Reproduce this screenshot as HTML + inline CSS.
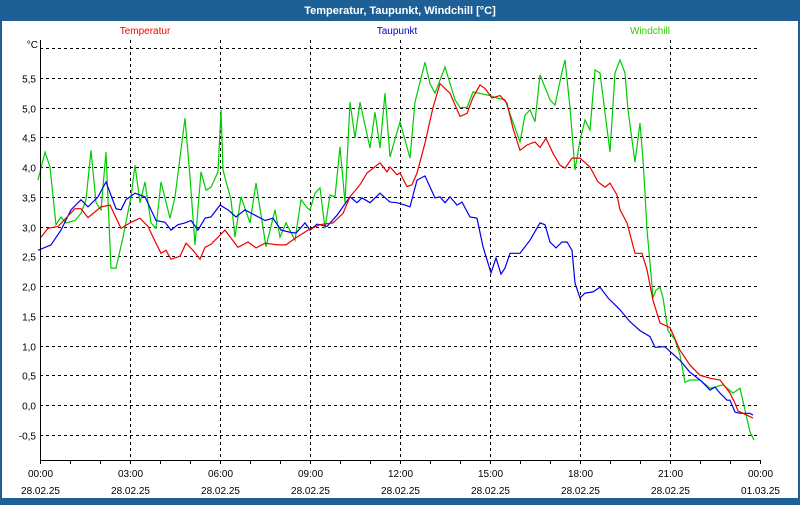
<!DOCTYPE html>
<html><head><meta charset="utf-8">
<style>
html,body{margin:0;padding:0;}
body{width:800px;height:500px;overflow:hidden;background:#1e5f96;font-family:"Liberation Sans",sans-serif;}
</style></head>
<body>
<svg width="800" height="500" xmlns="http://www.w3.org/2000/svg" id="svg">
<rect x="0" y="0" width="800" height="500" fill="#1e5f96"/>
<rect x="2" y="21" width="796" height="477" fill="#fff"/>
<text x="400" y="14" fill="#fff" font-size="11" font-weight="bold" text-anchor="middle">Temperatur, Taupunkt, Windchill [°C]</text>
<text x="145" y="34" fill="#ff0000" font-size="10" text-anchor="middle">Temperatur</text>
<text x="397" y="34" fill="#0000cc" font-size="10" text-anchor="middle">Taupunkt</text>
<text x="650" y="34" fill="#33cc00" font-size="10" text-anchor="middle">Windchill</text>
<text x="38" y="48" fill="#000" font-size="10" text-anchor="end">°C</text>
<g id="grid"></g>
<g id="series"></g>
<path d="M40.5 40 V460.5 H760.5" fill="none" stroke="#000" stroke-width="1"/>
<g id="labels"></g>
</svg>
<script>
const yTicks=[6.0,5.5,5.0,4.5,4.0,3.5,3.0,2.5,2.0,1.5,1.0,0.5,0.0,-0.5];
const xTickTimes=["00:00","03:00","06:00","09:00","12:00","15:00","18:00","21:00","00:00"];
const xTickDates=["28.02.25","28.02.25","28.02.25","28.02.25","28.02.25","28.02.25","28.02.25","28.02.25","01.03.25"];
const tempMin=[2,16,36,70,82,96,122,140,162,182,200,216,232,242,252,262,280,292,306,320,330,342,370,396,416,432,450,476,492,510,536,560,586,606,620,640,654,680,694,700,714,720,734,744,754,770,786,800,820,840,854,866,880,890,904,920,934,946,960,974,990,1000,1012,1026,1040,1050,1064,1080,1100,1116,1130,1140,1154,1160,1174,1190,1204,1214,1226,1240,1260,1280,1300,1320,1340,1360,1380,1390,1396,1406,1426];
const tempVal=[2.82,2.97,3.0,3.3,3.3,3.15,3.33,3.36,2.97,3.07,3.14,3.0,2.72,2.55,2.6,2.45,2.5,2.72,2.6,2.45,2.65,2.7,2.94,2.65,2.74,2.64,2.72,2.69,2.69,2.8,2.94,3.03,3.06,3.22,3.5,3.7,3.9,4.07,3.92,4.0,3.87,3.9,3.67,3.7,3.9,4.4,5.0,5.4,5.24,4.85,4.9,5.17,5.38,5.32,5.16,5.2,5.07,4.65,4.28,4.37,4.42,4.33,4.48,4.23,4.03,3.98,4.15,4.15,4.0,3.75,3.66,3.73,3.53,3.28,3.06,2.55,2.55,2.27,1.76,1.38,1.3,0.92,0.67,0.5,0.45,0.42,0.2,0.03,-0.1,-0.14,-0.22];
const dewMin=[-4,22,42,62,82,96,116,132,152,162,172,190,210,222,232,250,262,276,290,302,316,330,342,360,376,392,410,430,450,466,482,502,512,530,540,554,574,594,620,634,644,660,680,700,714,730,740,754,770,790,800,810,820,834,844,860,874,886,902,912,922,930,940,960,980,1000,1010,1020,1032,1044,1054,1064,1070,1080,1090,1106,1120,1136,1160,1180,1200,1220,1230,1250,1260,1280,1300,1320,1330,1340,1350,1360,1374,1380,1390,1400,1420,1426];
const dewVal=[2.6,2.69,2.94,3.28,3.45,3.33,3.5,3.75,3.3,3.28,3.45,3.56,3.5,3.28,3.1,3.07,2.94,3.03,3.06,3.1,2.94,3.14,3.16,3.36,3.28,3.16,3.28,3.19,3.1,3.14,2.94,2.9,2.89,3.06,2.94,3.04,3.0,3.19,3.5,3.4,3.48,3.4,3.56,3.41,3.4,3.36,3.33,3.78,3.85,3.48,3.5,3.4,3.5,3.36,3.41,3.16,3.14,2.66,2.22,2.47,2.2,2.3,2.55,2.55,2.77,3.06,3.03,2.74,2.64,2.74,2.74,2.6,2.05,1.8,1.88,1.9,1.98,1.8,1.6,1.4,1.25,1.15,0.97,0.98,0.9,0.75,0.55,0.42,0.34,0.25,0.3,0.2,0.08,0.08,-0.12,-0.14,-0.14,-0.17];
const chillMin=[-4,10,20,32,42,52,70,82,92,102,112,122,132,136,142,152,166,182,190,200,210,222,232,242,260,270,290,300,310,322,332,342,356,362,366,382,390,402,420,432,452,470,480,492,510,522,536,540,550,560,570,580,590,600,610,620,630,640,660,670,680,690,700,720,740,750,770,780,790,810,830,840,854,866,900,914,930,960,970,980,990,1000,1020,1030,1044,1050,1060,1070,1080,1090,1100,1110,1120,1140,1150,1160,1170,1176,1190,1200,1206,1210,1214,1220,1226,1232,1240,1246,1256,1270,1280,1290,1300,1320,1340,1366,1386,1400,1420,1428];
const chillVal=[3.78,4.25,4.0,3.03,3.16,3.06,3.1,3.22,3.45,4.28,3.4,3.28,4.25,3.45,2.3,2.3,2.82,3.5,4.03,3.4,3.75,3.06,2.97,3.75,3.14,3.5,4.82,3.83,2.69,3.92,3.61,3.66,3.92,4.96,3.95,3.45,2.82,3.5,3.06,3.73,2.66,3.28,2.82,3.06,2.77,3.45,3.3,3.28,3.56,3.65,2.97,3.53,3.5,4.34,3.4,5.09,4.49,5.09,4.32,4.92,4.32,5.24,4.17,4.76,4.15,5.09,5.76,5.4,5.24,5.68,5.13,5.0,5.0,5.26,5.2,5.16,5.13,4.42,4.87,4.96,4.76,5.55,5.13,5.04,5.6,5.8,5.0,3.95,4.45,4.79,4.62,5.63,5.58,4.25,5.58,5.8,5.58,4.96,4.08,4.74,4.12,3.56,2.94,2.39,1.8,1.93,1.98,1.8,1.25,1.1,0.84,0.38,0.42,0.42,0.28,0.34,0.2,0.28,-0.45,-0.59];

const NS="http://www.w3.org/2000/svg";
const X0=40,X1=760,Y0val=405,PXPV=59.5;
function xScale(min){return X0+min*(X1-X0)/1440;}
function yScale(v){return Y0val-v*PXPV;}
const grid=document.getElementById('grid');
const labels=document.getElementById('labels');
yTicks.forEach(function(v){
  const y=Math.round(yScale(v))+0.5;
  const l=document.createElementNS(NS,'line');
  
  
  l.setAttribute('x1',X0);l.setAttribute('x2',X1);l.setAttribute('y1',y);l.setAttribute('y2',y);
  l.setAttribute('stroke','#000');l.setAttribute('stroke-dasharray','3,3');
  grid.appendChild(l);
  if(v<6){
    const t=document.createElementNS(NS,'text');
    
    
    t.setAttribute('x',36);t.setAttribute('y',y+4);t.setAttribute('text-anchor','end');t.setAttribute('font-size','10');
    t.textContent=v.toFixed(1).replace('.',',');
    labels.appendChild(t);
  }
});
for(let i=0;i<=24;i++){
  const x=Math.round(xScale(i*60))+0.5;
  const tk=document.createElementNS(NS,'line');
  
  
  tk.setAttribute('x1',x);tk.setAttribute('x2',x);tk.setAttribute('y1',460);tk.setAttribute('y2',464);tk.setAttribute('stroke','#000');
  labels.appendChild(tk);
}
xTickTimes.forEach(function(s,i){
  const x=Math.round(xScale(i*180))+0.5;
  if(i>0&&i<8){
    const l=document.createElementNS(NS,'line');
    
    
    l.setAttribute('x1',x);l.setAttribute('x2',x);l.setAttribute('y1',40);l.setAttribute('y2',460);
    l.setAttribute('stroke','#000');l.setAttribute('stroke-dasharray','3,3');
    grid.appendChild(l);
  }
  const t=document.createElementNS(NS,'text');
  
  
  t.setAttribute('x',x);t.setAttribute('y',477);t.setAttribute('text-anchor','middle');t.setAttribute('font-size','10');
  t.textContent=s;labels.appendChild(t);
  const d=document.createElementNS(NS,'text');
  
  
  d.setAttribute('x',x);d.setAttribute('y',494);d.setAttribute('text-anchor','middle');d.setAttribute('font-size','10');
  d.textContent=xTickDates[i];labels.appendChild(d);
});
const series=document.getElementById('series');
function drawLine(mins,vals,color,name){
  const n=Math.min(mins.length,vals.length);
  const pts=[];
  for(let i=0;i<n;i++){pts.push(xScale(mins[i]).toFixed(1)+','+yScale(vals[i]).toFixed(1));}
  const p=document.createElementNS(NS,'polyline');
  
  
  p.setAttribute('points',pts.join(' '));p.setAttribute('fill','none');p.setAttribute('stroke',color);p.setAttribute('stroke-width','1.2');
  series.appendChild(p);
}
drawLine(chillMin,chillVal,'#00cc00','windchill-line');
drawLine(dewMin,dewVal,'#0000ee','taupunkt-line');
drawLine(tempMin,tempVal,'#ee0000','temperatur-line');
</script>
</body></html>
